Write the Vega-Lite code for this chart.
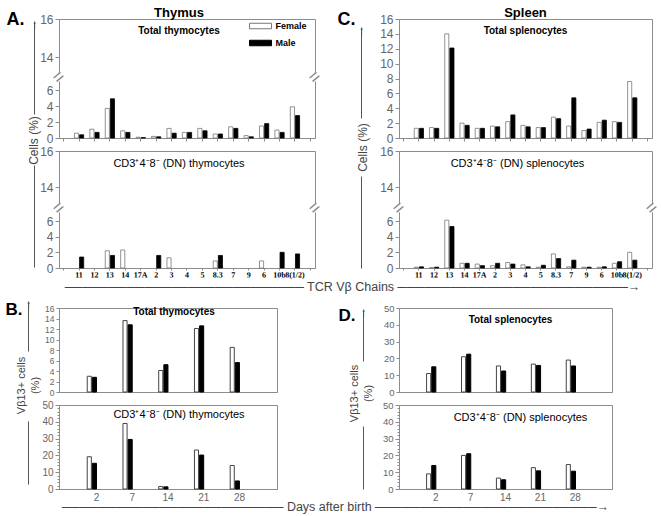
{
  "$schema": "https://vega.github.io/schema/vega-lite/v6.json",
  "padding": {"left": 4, "top": 6, "right": 6, "bottom": 4},
  "background": "white",
  "datasets": {
    "thymusTotal": [
      {"chain": "11", "sex": "Female", "pct": 0.6}, {"chain": "11", "sex": "Male", "pct": 0.4},
      {"chain": "12", "sex": "Female", "pct": 1.1}, {"chain": "12", "sex": "Male", "pct": 0.7},
      {"chain": "13", "sex": "Female", "pct": 3.7}, {"chain": "13", "sex": "Male", "pct": 4.9},
      {"chain": "14", "sex": "Female", "pct": 0.9}, {"chain": "14", "sex": "Male", "pct": 0.7},
      {"chain": "17A", "sex": "Female", "pct": 0.1}, {"chain": "17A", "sex": "Male", "pct": 0.05},
      {"chain": "2", "sex": "Female", "pct": 0.2}, {"chain": "2", "sex": "Male", "pct": 0.15},
      {"chain": "3", "sex": "Female", "pct": 1.2}, {"chain": "3", "sex": "Male", "pct": 0.6},
      {"chain": "4", "sex": "Female", "pct": 0.7}, {"chain": "4", "sex": "Male", "pct": 0.7},
      {"chain": "5", "sex": "Female", "pct": 1.2}, {"chain": "5", "sex": "Male", "pct": 0.9},
      {"chain": "8.3", "sex": "Female", "pct": 0.5}, {"chain": "8.3", "sex": "Male", "pct": 0.5},
      {"chain": "7", "sex": "Female", "pct": 1.4}, {"chain": "7", "sex": "Male", "pct": 1.2},
      {"chain": "9", "sex": "Female", "pct": 0.3}, {"chain": "9", "sex": "Male", "pct": 0.15},
      {"chain": "6", "sex": "Female", "pct": 1.5}, {"chain": "6", "sex": "Male", "pct": 1.8},
      {"chain": "10b", "sex": "Female", "pct": 1.0}, {"chain": "10b", "sex": "Male", "pct": 0.7},
      {"chain": "8(1/2)", "sex": "Female", "pct": 3.9}, {"chain": "8(1/2)", "sex": "Male", "pct": 2.8}
    ],
    "thymusDN": [
      {"chain": "11", "sex": "Male", "pct": 1.4},
      {"chain": "13", "sex": "Female", "pct": 2.2}, {"chain": "13", "sex": "Male", "pct": 1.6},
      {"chain": "14", "sex": "Female", "pct": 2.3},
      {"chain": "2", "sex": "Male", "pct": 1.6},
      {"chain": "3", "sex": "Female", "pct": 1.3},
      {"chain": "8.3", "sex": "Female", "pct": 0.9}, {"chain": "8.3", "sex": "Male", "pct": 1.6},
      {"chain": "6", "sex": "Female", "pct": 0.9},
      {"chain": "10b", "sex": "Male", "pct": 2.0},
      {"chain": "8(1/2)", "sex": "Male", "pct": 1.8}
    ],
    "spleenTotal": [
      {"chain": "11", "sex": "Female", "pct": 1.3}, {"chain": "11", "sex": "Male", "pct": 1.3},
      {"chain": "12", "sex": "Female", "pct": 1.4}, {"chain": "12", "sex": "Male", "pct": 1.3},
      {"chain": "13", "sex": "Female", "pct": 14.0}, {"chain": "13", "sex": "Male", "pct": 12.1},
      {"chain": "14", "sex": "Female", "pct": 2.0}, {"chain": "14", "sex": "Male", "pct": 1.7},
      {"chain": "17A", "sex": "Female", "pct": 1.3}, {"chain": "17A", "sex": "Male", "pct": 1.3},
      {"chain": "2", "sex": "Female", "pct": 1.6}, {"chain": "2", "sex": "Male", "pct": 1.5},
      {"chain": "3", "sex": "Female", "pct": 2.2}, {"chain": "3", "sex": "Male", "pct": 3.1},
      {"chain": "4", "sex": "Female", "pct": 1.7}, {"chain": "4", "sex": "Male", "pct": 1.5},
      {"chain": "5", "sex": "Female", "pct": 1.4}, {"chain": "5", "sex": "Male", "pct": 1.4},
      {"chain": "8.3", "sex": "Female", "pct": 2.8}, {"chain": "8.3", "sex": "Male", "pct": 2.6},
      {"chain": "7", "sex": "Female", "pct": 1.6}, {"chain": "7", "sex": "Male", "pct": 5.4},
      {"chain": "9", "sex": "Female", "pct": 1.0}, {"chain": "9", "sex": "Male", "pct": 1.2},
      {"chain": "6", "sex": "Female", "pct": 2.1}, {"chain": "6", "sex": "Male", "pct": 2.4},
      {"chain": "10b", "sex": "Female", "pct": 2.2}, {"chain": "10b", "sex": "Male", "pct": 2.1},
      {"chain": "8(1/2)", "sex": "Female", "pct": 7.6}, {"chain": "8(1/2)", "sex": "Male", "pct": 5.4}
    ],
    "spleenDN": [
      {"chain": "11", "sex": "Female", "pct": 0.1}, {"chain": "11", "sex": "Male", "pct": 0.15},
      {"chain": "12", "sex": "Female", "pct": 0.05}, {"chain": "12", "sex": "Male", "pct": 0.1},
      {"chain": "13", "sex": "Female", "pct": 6.2}, {"chain": "13", "sex": "Male", "pct": 5.3},
      {"chain": "14", "sex": "Female", "pct": 0.6}, {"chain": "14", "sex": "Male", "pct": 0.6},
      {"chain": "17A", "sex": "Female", "pct": 0.5}, {"chain": "17A", "sex": "Male", "pct": 0.3},
      {"chain": "2", "sex": "Female", "pct": 0.3}, {"chain": "2", "sex": "Male", "pct": 0.6},
      {"chain": "3", "sex": "Female", "pct": 0.7}, {"chain": "3", "sex": "Male", "pct": 0.5},
      {"chain": "4", "sex": "Female", "pct": 0.4}, {"chain": "4", "sex": "Male", "pct": 0.15},
      {"chain": "5", "sex": "Female", "pct": 0.1}, {"chain": "5", "sex": "Male", "pct": 0.35},
      {"chain": "8.3", "sex": "Female", "pct": 1.8}, {"chain": "8.3", "sex": "Male", "pct": 1.2},
      {"chain": "7", "sex": "Female", "pct": 0.15}, {"chain": "7", "sex": "Male", "pct": 1.0},
      {"chain": "9", "sex": "Female", "pct": 0.1}, {"chain": "9", "sex": "Male", "pct": 0.1},
      {"chain": "6", "sex": "Female", "pct": 0.1}, {"chain": "6", "sex": "Male", "pct": 0.15},
      {"chain": "10b", "sex": "Female", "pct": 0.6}, {"chain": "10b", "sex": "Male", "pct": 0.8},
      {"chain": "8(1/2)", "sex": "Female", "pct": 2.0}, {"chain": "8(1/2)", "sex": "Male", "pct": 1.0}
    ],
    "thymusDays": [
      {"day": "2", "sex": "Female", "pct": 3.0}, {"day": "2", "sex": "Male", "pct": 2.8},
      {"day": "7", "sex": "Female", "pct": 13.6}, {"day": "7", "sex": "Male", "pct": 12.8},
      {"day": "14", "sex": "Female", "pct": 4.1}, {"day": "14", "sex": "Male", "pct": 5.2},
      {"day": "21", "sex": "Female", "pct": 12.1}, {"day": "21", "sex": "Male", "pct": 12.6},
      {"day": "28", "sex": "Female", "pct": 8.5}, {"day": "28", "sex": "Male", "pct": 5.6}
    ],
    "thymusDaysDN": [
      {"day": "2", "sex": "Female", "pct": 19.2}, {"day": "2", "sex": "Male", "pct": 15.3},
      {"day": "7", "sex": "Female", "pct": 39.0}, {"day": "7", "sex": "Male", "pct": 29.5},
      {"day": "14", "sex": "Female", "pct": 1.5}, {"day": "14", "sex": "Male", "pct": 1.3},
      {"day": "21", "sex": "Female", "pct": 23.2}, {"day": "21", "sex": "Male", "pct": 20.2},
      {"day": "28", "sex": "Female", "pct": 14.0}, {"day": "28", "sex": "Male", "pct": 4.8}
    ],
    "spleenDays": [
      {"day": "2", "sex": "Female", "pct": 11.0}, {"day": "2", "sex": "Male", "pct": 15.0},
      {"day": "7", "sex": "Female", "pct": 21.0}, {"day": "7", "sex": "Male", "pct": 22.5},
      {"day": "14", "sex": "Female", "pct": 15.5}, {"day": "14", "sex": "Male", "pct": 12.5},
      {"day": "21", "sex": "Female", "pct": 16.6}, {"day": "21", "sex": "Male", "pct": 15.8},
      {"day": "28", "sex": "Female", "pct": 19.0}, {"day": "28", "sex": "Male", "pct": 15.5}
    ],
    "spleenDaysDN": [
      {"day": "2", "sex": "Female", "pct": 9.0}, {"day": "2", "sex": "Male", "pct": 14.0},
      {"day": "7", "sex": "Female", "pct": 20.0}, {"day": "7", "sex": "Male", "pct": 21.0},
      {"day": "14", "sex": "Female", "pct": 6.5}, {"day": "14", "sex": "Male", "pct": 5.5},
      {"day": "21", "sex": "Female", "pct": 12.7}, {"day": "21", "sex": "Male", "pct": 10.8},
      {"day": "28", "sex": "Female", "pct": 14.6}, {"day": "28", "sex": "Male", "pct": 10.6}
    ]
  },
  "columns": 2,
  "spacing": {"row": 13, "column": 84},
  "bounds": "flush",
  "align": "each",
  "resolve": {"scale": {"fill": "independent", "stroke": "independent"}, "legend": {"fill": "independent", "stroke": "independent"}},
  "concat": [
    {
      "width": 256, "height": 119,
      "title": {"text": "Thymus", "subtitle": "Total thymocytes", "fontSize": 13, "fontWeight": "bold", "subtitleFontSize": 10, "subtitleFontWeight": "bold", "subtitleColor": "black", "subtitleFont": "Liberation Sans", "subtitlePadding": 6, "anchor": "middle", "frame": "group", "offset": -26, "dx": -8},
      "resolve": {"scale": {"y": "independent"}, "axis": {"y": "independent"}},
      "layer": [
        {
          "layer": [
            {
              "data": {"name": "thymusTotal"},
              "mark": {"type": "bar", "strokeWidth": 0.8},
              "encoding": {
                "x": {"field": "chain", "type": "nominal", "scale": {"type": "band", "domain": ["a", "11", "12", "13", "14", "17A", "2", "3", "4", "5", "8.3", "7", "9", "6", "10b", "8(1/2)", "z"], "paddingInner": 0.4, "paddingOuter": 0}, "axis": {"labels": false, "ticks": true, "tickSize": 3, "title": "A.", "titleAngle": 0, "titleAlign": "left", "titleBaseline": "alphabetic", "titleX": -53, "titleY": -114, "titleFontSize": 18, "titleFontWeight": "bold", "titleColor": "black"}},
                "xOffset": {"field": "sex", "type": "nominal", "scale": {"domain": ["Female", "Male"], "paddingInner": 0.2}},
                "y": {"field": "pct", "type": "quantitative", "scale": {"domain": [0, 6, 14, 16], "range": [119, 71, 38, 0], "nice": false, "zero": false}, "axis": {"values": [0, 2, 4, 6, 14, 16], "format": "d", "tickCount": 30, "labelOverlap": false, "labelFontSize": 12, "tickSize": 4, "title": "Cells (%)", "titleX": -26, "titleY": 121, "titleAngle": 270, "titleAlign": "center", "titleBaseline": "middle", "titleFontSize": 12}},
                "fill": {"field": "sex", "type": "nominal", "scale": {"domain": ["Female", "Male"], "range": ["white", "black"]}, "legend": {"title": null, "orient": "none", "legendX": 195.5, "legendY": 1, "padding": 0, "symbolType": "M-2,-0.5H2V0.5H-2Z", "symbolSize": 121, "symbolStrokeWidth": 1, "labelOffset": 9, "labelFontSize": 9, "labelFontWeight": "bold", "labelColor": "black", "rowPadding": 6}},
                "stroke": {"field": "sex", "type": "nominal", "scale": {"domain": ["Female", "Male"], "range": ["#777777", "black"]}, "legend": {"title": null, "orient": "none", "legendX": 195.5, "legendY": 1, "padding": 0, "symbolType": "M-2,-0.5H2V0.5H-2Z", "symbolSize": 121, "symbolStrokeWidth": 1, "labelOffset": 9, "labelFontSize": 9, "labelFontWeight": "bold", "labelColor": "black", "rowPadding": 6}}
              }
            },
            {"data": {"values": [{}]}, "mark": {"type": "rect", "fill": "white", "stroke": "white", "strokeWidth": 3}, "encoding": {"y": {"datum": 8.4}, "y2": {"datum": 9.6}}},
            {"data": {"values": [{}]}, "mark": {"type": "text", "text": "=", "fontSize": 18, "angle": -40, "color": "#888888", "align": "center", "baseline": "middle"}, "encoding": {"x": {"datum": "a", "bandPosition": 0}, "y": {"datum": 9}}},
            {"data": {"values": [{}]}, "mark": {"type": "text", "text": "=", "fontSize": 18, "angle": -40, "color": "#888888", "align": "center", "baseline": "middle"}, "encoding": {"x": {"datum": "z", "bandPosition": 1}, "y": {"datum": 9}}}
          ]
        },
        {"data": {"values": []}, "mark": {"type": "rule"}, "encoding": {"y": {"field": "v", "type": "quantitative", "scale": {"domain": [0, 1], "range": [95, 2]}, "axis": {"orient": "left", "offset": 25, "domain": true, "domainColor": "#555555", "ticks": false, "tickSize": 0, "values": [1], "labels": true, "labelExpr": "'↑'", "labelAlign": "center", "labelBaseline": "top", "labelPadding": 0, "labelOffset": -2, "labelFontSize": 12, "labelColor": "#555555", "labelOverlap": false, "labelFlush": false, "grid": false, "title": null}}}}
      ]
    },
    {
      "width": 253, "height": 119,
      "title": {"text": "Spleen", "subtitle": "Total splenocytes", "fontSize": 13, "fontWeight": "bold", "subtitleFontSize": 10, "subtitleFontWeight": "bold", "subtitleColor": "black", "subtitleFont": "Liberation Sans", "subtitlePadding": 6, "anchor": "middle", "frame": "group", "offset": -26, "dx": 0},
      "resolve": {"scale": {"y": "independent"}, "axis": {"y": "independent"}},
      "layer": [
        {
          "data": {"name": "spleenTotal"},
          "mark": {"type": "bar", "strokeWidth": 0.8},
          "encoding": {
            "x": {"field": "chain", "type": "nominal", "scale": {"type": "band", "domain": ["a", "11", "12", "13", "14", "17A", "2", "3", "4", "5", "8.3", "7", "9", "6", "10b", "8(1/2)", "z"], "paddingInner": 0.4, "paddingOuter": 0}, "axis": {"labels": false, "ticks": true, "tickSize": 3, "title": "C.", "titleAngle": 0, "titleAlign": "left", "titleBaseline": "alphabetic", "titleX": -62, "titleY": -114, "titleFontSize": 18, "titleFontWeight": "bold", "titleColor": "black"}},
            "xOffset": {"field": "sex", "type": "nominal", "scale": {"domain": ["Female", "Male"], "paddingInner": 0.2}},
            "y": {"field": "pct", "type": "quantitative", "scale": {"domain": [0, 16], "nice": false, "zero": true}, "axis": {"values": [0, 2, 4, 6, 8, 10, 12, 14, 16], "format": "d", "tickCount": 30, "labelOverlap": false, "labelFontSize": 12, "tickSize": 4, "title": "Cells (%)", "titleX": -37, "titleY": 128, "titleAngle": 270, "titleAlign": "center", "titleBaseline": "middle", "titleFontSize": 12}},
            "fill": {"field": "sex", "type": "nominal", "scale": {"domain": ["Female", "Male"], "range": ["white", "black"]}, "legend": null},
            "stroke": {"field": "sex", "type": "nominal", "scale": {"domain": ["Female", "Male"], "range": ["#777777", "black"]}, "legend": null}
          }
        },
        {"data": {"values": []}, "mark": {"type": "rule"}, "encoding": {"y": {"field": "v", "type": "quantitative", "scale": {"domain": [0, 1], "range": [99, 8]}, "axis": {"orient": "left", "offset": 38, "domain": true, "domainColor": "#555555", "ticks": false, "tickSize": 0, "values": [1], "labels": true, "labelExpr": "'↑'", "labelAlign": "center", "labelBaseline": "top", "labelPadding": 0, "labelOffset": -2, "labelFontSize": 12, "labelColor": "#555555", "labelOverlap": false, "labelFlush": false, "grid": false, "title": null}}}}
      ]
    },
    {
      "width": 256, "height": 117,
      "title": {"text": "CD3⁺4⁻8⁻ (DN) thymocytes", "fontSize": 11, "fontWeight": "normal", "anchor": "middle", "frame": "group", "offset": -24.3, "dx": -8},
      "resolve": {"scale": {"y": "independent"}, "axis": {"y": "independent"}},
      "layer": [
        {
          "layer": [
            {
              "data": {"name": "thymusDN"},
              "mark": {"type": "bar", "strokeWidth": 0.8},
              "encoding": {
                "x": {"field": "chain", "type": "nominal", "scale": {"type": "band", "domain": ["a", "11", "12", "13", "14", "17A", "2", "3", "4", "5", "8.3", "7", "9", "6", "10b", "8(1/2)", "z"], "paddingInner": 0.4, "paddingOuter": 0}, "axis": {"labelExpr": "datum.value == 'a' || datum.value == 'z' ? '' : datum.value", "labelOverlap": false, "labelAngle": 0.2, "labelAlign": "center", "labelBaseline": "top", "labelFont": "Liberation Serif", "labelFontWeight": "bold", "labelFontSize": 8, "labelColor": "black", "labelPadding": 1, "ticks": true, "tickSize": 2, "title": "───────────────────────────  TCR Vβ Chains  ──────────────────────────→", "titleX": 293, "titleY": 18, "titleAlign": "center", "titleBaseline": "middle", "titleFontSize": 12.5, "titleLimit": 1000}},
                "xOffset": {"field": "sex", "type": "nominal", "scale": {"domain": ["Female", "Male"], "paddingInner": 0.2}},
                "y": {"field": "pct", "type": "quantitative", "scale": {"domain": [0, 6, 14, 16], "range": [117, 70, 36, 0], "nice": false, "zero": false}, "axis": {"values": [0, 2, 4, 6, 14, 16], "format": "d", "tickCount": 30, "labelOverlap": false, "labelFontSize": 12, "tickSize": 4, "title": null}},
                "fill": {"field": "sex", "type": "nominal", "scale": {"domain": ["Female", "Male"], "range": ["white", "black"]}, "legend": null},
                "stroke": {"field": "sex", "type": "nominal", "scale": {"domain": ["Female", "Male"], "range": ["#777777", "black"]}, "legend": null}
              }
            },
            {"data": {"values": [{}]}, "mark": {"type": "rect", "fill": "white", "stroke": "white", "strokeWidth": 3}, "encoding": {"y": {"datum": 8.4}, "y2": {"datum": 9.6}}},
            {"data": {"values": [{}]}, "mark": {"type": "text", "text": "=", "fontSize": 18, "angle": -40, "color": "#888888", "align": "center", "baseline": "middle"}, "encoding": {"x": {"datum": "a", "bandPosition": 0}, "y": {"datum": 9}}},
            {"data": {"values": [{}]}, "mark": {"type": "text", "text": "=", "fontSize": 18, "angle": -40, "color": "#888888", "align": "center", "baseline": "middle"}, "encoding": {"x": {"datum": "z", "bandPosition": 1}, "y": {"datum": 9}}}
          ]
        },
        {"data": {"values": []}, "mark": {"type": "rule"}, "encoding": {"y": {"field": "v", "type": "quantitative", "scale": {"domain": [0, 1], "range": [116, 14]}, "axis": {"orient": "left", "offset": 25, "domain": true, "domainColor": "#555555", "ticks": false, "labels": false, "grid": false, "title": null}}}}
      ]
    },
    {
      "width": 253, "height": 117,
      "title": {"text": "CD3⁺4⁻8⁻ (DN) splenocytes", "fontSize": 11, "fontWeight": "normal", "anchor": "middle", "frame": "group", "offset": -24.3, "dx": -8},
      "resolve": {"scale": {"y": "independent"}, "axis": {"y": "independent"}},
      "layer": [
        {
          "layer": [
            {
              "data": {"name": "spleenDN"},
              "mark": {"type": "bar", "strokeWidth": 0.8},
              "encoding": {
                "x": {"field": "chain", "type": "nominal", "scale": {"type": "band", "domain": ["a", "11", "12", "13", "14", "17A", "2", "3", "4", "5", "8.3", "7", "9", "6", "10b", "8(1/2)", "z"], "paddingInner": 0.4, "paddingOuter": 0}, "axis": {"labelExpr": "datum.value == 'a' || datum.value == 'z' ? '' : datum.value", "labelOverlap": false, "labelAngle": 0.2, "labelAlign": "center", "labelBaseline": "top", "labelFont": "Liberation Serif", "labelFontWeight": "bold", "labelFontSize": 8, "labelColor": "black", "labelPadding": 1, "ticks": true, "tickSize": 2, "title": null}},
                "xOffset": {"field": "sex", "type": "nominal", "scale": {"domain": ["Female", "Male"], "paddingInner": 0.2}},
                "y": {"field": "pct", "type": "quantitative", "scale": {"domain": [0, 6, 14, 16], "range": [117, 70, 36, 0], "nice": false, "zero": false}, "axis": {"values": [0, 2, 4, 6, 14, 16], "format": "d", "tickCount": 30, "labelOverlap": false, "labelFontSize": 12, "tickSize": 4, "title": null}},
                "fill": {"field": "sex", "type": "nominal", "scale": {"domain": ["Female", "Male"], "range": ["white", "black"]}, "legend": null},
                "stroke": {"field": "sex", "type": "nominal", "scale": {"domain": ["Female", "Male"], "range": ["#777777", "black"]}, "legend": null}
              }
            },
            {"data": {"values": [{}]}, "mark": {"type": "rect", "fill": "white", "stroke": "white", "strokeWidth": 3}, "encoding": {"y": {"datum": 8.4}, "y2": {"datum": 9.6}}},
            {"data": {"values": [{}]}, "mark": {"type": "text", "text": "=", "fontSize": 18, "angle": -40, "color": "#888888", "align": "center", "baseline": "middle"}, "encoding": {"x": {"datum": "a", "bandPosition": 0}, "y": {"datum": 9}}},
            {"data": {"values": [{}]}, "mark": {"type": "text", "text": "=", "fontSize": 18, "angle": -40, "color": "#888888", "align": "center", "baseline": "middle"}, "encoding": {"x": {"datum": "z", "bandPosition": 1}, "y": {"datum": 9}}}
          ]
        },
        {"data": {"values": []}, "mark": {"type": "rule"}, "encoding": {"y": {"field": "v", "type": "quantitative", "scale": {"domain": [0, 1], "range": [117, 25]}, "axis": {"orient": "left", "offset": 38, "domain": true, "domainColor": "#555555", "ticks": false, "labels": false, "grid": false, "title": null}}}}
      ]
    },
    {"width": 256, "height": 14, "view": {"stroke": null, "fill": null}, "data": {"values": []}, "mark": {"type": "point"}},
    {"width": 253, "height": 14, "view": {"stroke": null, "fill": null}, "data": {"values": []}, "mark": {"type": "point"}},
    {
      "width": 218, "height": 84,
      "title": {"text": "Total thymocytes", "fontSize": 10, "fontWeight": "bold", "anchor": "middle", "frame": "group", "offset": -19, "dx": 6},
      "resolve": {"scale": {"y": "independent"}, "axis": {"y": "independent"}},
      "layer": [
        {
          "data": {"name": "thymusDays"},
          "mark": {"type": "bar", "strokeWidth": 1},
          "encoding": {
            "x": {"field": "day", "type": "nominal", "scale": {"type": "band", "domain": ["2", "7", "14", "21", "28"], "paddingInner": 0.48, "paddingOuter": 0.79}, "axis": {"labels": false, "ticks": false, "title": "B.", "titleAngle": 0, "titleAlign": "left", "titleBaseline": "alphabetic", "titleX": -54, "titleY": -78, "titleFontSize": 17, "titleFontWeight": "bold", "titleColor": "black"}},
            "xOffset": {"field": "sex", "type": "nominal", "scale": {"domain": ["Female", "Male"], "paddingInner": 0.36}},
            "y": {"field": "pct", "type": "quantitative", "scale": {"domain": [0, 16], "nice": false}, "axis": {"values": [0, 2, 4, 6, 8, 10, 12, 14, 16], "format": "d", "tickCount": 30, "labelOverlap": false, "labelFontSize": 8.5, "tickSize": 3, "labelPadding": 2, "title": ["Vβ13+ cells", "(%)"], "titleX": -38, "titleY": 77, "titleAngle": 270, "titleAlign": "center", "titleBaseline": "middle", "titleFontSize": 11, "titleLineHeight": 14}},
            "fill": {"field": "sex", "type": "nominal", "scale": {"domain": ["Female", "Male"], "range": ["white", "black"]}, "legend": null},
            "stroke": {"field": "sex", "type": "nominal", "scale": {"domain": ["Female", "Male"], "range": ["#444444", "black"]}, "legend": null}
          }
        },
        {"data": {"values": []}, "mark": {"type": "rule"}, "encoding": {"y": {"field": "v", "type": "quantitative", "scale": {"domain": [0, 1], "range": [43, -7]}, "axis": {"orient": "left", "offset": 31, "domain": true, "domainColor": "#555555", "ticks": false, "tickSize": 0, "values": [1], "labels": true, "labelExpr": "'↑'", "labelAlign": "center", "labelBaseline": "top", "labelPadding": 0, "labelOffset": -2, "labelFontSize": 12, "labelColor": "#555555", "labelOverlap": false, "labelFlush": false, "grid": false, "title": null}}}}
      ]
    },
    {
      "width": 213, "height": 84,
      "title": {"text": "Total splenocytes", "fontSize": 10, "fontWeight": "bold", "anchor": "middle", "frame": "group", "offset": -22, "dx": 5},
      "resolve": {"scale": {"y": "independent"}, "axis": {"y": "independent"}},
      "layer": [
        {
          "data": {"name": "spleenDays"},
          "mark": {"type": "bar", "strokeWidth": 1},
          "encoding": {
            "x": {"field": "day", "type": "nominal", "scale": {"type": "band", "domain": ["2", "7", "14", "21", "28"], "paddingInner": 0.48, "paddingOuter": 0.79}, "axis": {"labels": false, "ticks": false, "title": "D.", "titleAngle": 0, "titleAlign": "left", "titleBaseline": "alphabetic", "titleX": -61, "titleY": -72, "titleFontSize": 17, "titleFontWeight": "bold", "titleColor": "black"}},
            "xOffset": {"field": "sex", "type": "nominal", "scale": {"domain": ["Female", "Male"], "paddingInner": 0.36}},
            "y": {"field": "pct", "type": "quantitative", "scale": {"domain": [0, 50], "nice": false}, "axis": {"values": [0, 10, 20, 30, 40, 50], "format": "d", "tickCount": 30, "labelOverlap": false, "labelFontSize": 9.5, "tickSize": 3, "labelPadding": 2, "title": ["Vβ13+ cells", "(%)"], "titleX": -45, "titleY": 85, "titleAngle": 270, "titleAlign": "center", "titleBaseline": "middle", "titleFontSize": 11, "titleLineHeight": 14}},
            "fill": {"field": "sex", "type": "nominal", "scale": {"domain": ["Female", "Male"], "range": ["white", "black"]}, "legend": null},
            "stroke": {"field": "sex", "type": "nominal", "scale": {"domain": ["Female", "Male"], "range": ["#444444", "black"]}, "legend": null}
          }
        },
        {"data": {"values": []}, "mark": {"type": "rule"}, "encoding": {"y": {"field": "v", "type": "quantitative", "scale": {"domain": [0, 1], "range": [53, 1]}, "axis": {"orient": "left", "offset": 36, "domain": true, "domainColor": "#555555", "ticks": false, "tickSize": 0, "values": [1], "labels": true, "labelExpr": "'↑'", "labelAlign": "center", "labelBaseline": "top", "labelPadding": 0, "labelOffset": -2, "labelFontSize": 12, "labelColor": "#555555", "labelOverlap": false, "labelFlush": false, "grid": false, "title": null}}}}
      ]
    },
    {
      "width": 218, "height": 84,
      "title": {"text": "CD3⁺4⁻8⁻ (DN) thymocytes", "fontSize": 11, "fontWeight": "normal", "anchor": "middle", "frame": "group", "offset": -20.3, "dx": 11},
      "resolve": {"scale": {"y": "independent"}, "axis": {"y": "independent"}},
      "layer": [
        {
          "data": {"name": "thymusDaysDN"},
          "mark": {"type": "bar", "strokeWidth": 1},
          "encoding": {
            "x": {"field": "day", "type": "nominal", "scale": {"type": "band", "domain": ["2", "7", "14", "21", "28"], "paddingInner": 0.48, "paddingOuter": 0.79}, "axis": {"labelAngle": 0, "labelFontSize": 10, "labelPadding": 3, "ticks": false, "title": "───────────────────────── Days after birth ─────────────────────────→", "titleX": 276, "titleY": 17, "titleAlign": "center", "titleBaseline": "middle", "titleFontSize": 12.5, "titleLimit": 1000}},
            "xOffset": {"field": "sex", "type": "nominal", "scale": {"domain": ["Female", "Male"], "paddingInner": 0.36}},
            "y": {"field": "pct", "type": "quantitative", "scale": {"domain": [0, 50], "nice": false}, "axis": {"values": [0, 2, 4, 6, 8, 10, 12, 14, 16, 18, 20, 22, 24, 26, 28, 30, 32, 34, 36, 38, 40, 42, 44, 46, 48, 50], "tickCount": 60, "labelOverlap": false, "labelExpr": "datum.value % 10 == 0 ? datum.label : ''", "tickSize": {"condition": {"test": "datum.value % 10 == 0", "value": 4}, "value": 2}, "labelFontSize": 10, "labelPadding": 2, "title": null}},
            "fill": {"field": "sex", "type": "nominal", "scale": {"domain": ["Female", "Male"], "range": ["white", "black"]}, "legend": null},
            "stroke": {"field": "sex", "type": "nominal", "scale": {"domain": ["Female", "Male"], "range": ["#444444", "black"]}, "legend": null}
          }
        },
        {"data": {"values": []}, "mark": {"type": "rule"}, "encoding": {"y": {"field": "v", "type": "quantitative", "scale": {"domain": [0, 1], "range": [79, 16]}, "axis": {"orient": "left", "offset": 31, "domain": true, "domainColor": "#555555", "ticks": false, "labels": false, "grid": false, "title": null}}}}
      ]
    },
    {
      "width": 213, "height": 84,
      "title": {"text": "CD3⁺4⁻8⁻ (DN) splenocytes", "fontSize": 11, "fontWeight": "normal", "anchor": "middle", "frame": "group", "offset": -23, "dx": 15},
      "resolve": {"scale": {"y": "independent"}, "axis": {"y": "independent"}},
      "layer": [
        {
          "data": {"name": "spleenDaysDN"},
          "mark": {"type": "bar", "strokeWidth": 1},
          "encoding": {
            "x": {"field": "day", "type": "nominal", "scale": {"type": "band", "domain": ["2", "7", "14", "21", "28"], "paddingInner": 0.48, "paddingOuter": 0.79}, "axis": {"labelAngle": 0, "labelFontSize": 10, "labelPadding": 3, "ticks": false, "title": null}},
            "xOffset": {"field": "sex", "type": "nominal", "scale": {"domain": ["Female", "Male"], "paddingInner": 0.36}},
            "y": {"field": "pct", "type": "quantitative", "scale": {"domain": [0, 50], "nice": false}, "axis": {"values": [0, 2, 4, 6, 8, 10, 12, 14, 16, 18, 20, 22, 24, 26, 28, 30, 32, 34, 36, 38, 40, 42, 44, 46, 48, 50], "tickCount": 60, "labelOverlap": false, "labelExpr": "datum.value % 10 == 0 ? datum.label : ''", "tickSize": {"condition": {"test": "datum.value % 10 == 0", "value": 4}, "value": 2}, "labelFontSize": 9.5, "labelPadding": 2, "title": null}},
            "fill": {"field": "sex", "type": "nominal", "scale": {"domain": ["Female", "Male"], "range": ["white", "black"]}, "legend": null},
            "stroke": {"field": "sex", "type": "nominal", "scale": {"domain": ["Female", "Male"], "range": ["#444444", "black"]}, "legend": null}
          }
        },
        {"data": {"values": []}, "mark": {"type": "rule"}, "encoding": {"y": {"field": "v", "type": "quantitative", "scale": {"domain": [0, 1], "range": [84, 21]}, "axis": {"orient": "left", "offset": 36, "domain": true, "domainColor": "#555555", "ticks": false, "labels": false, "grid": false, "title": null}}}}
      ]
    }
  ],
  "config": {
    "font": "Liberation Sans",
    "view": {"stroke": "#8c8c8c", "strokeWidth": 1},
    "axis": {"domainColor": "#8c8c8c", "tickColor": "#8c8c8c", "labelColor": "#666666", "grid": false, "titleFontWeight": "normal", "titleColor": "#444444", "titleFont": "Liberation Sans", "labelFont": "Liberation Sans"},
    "title": {"color": "black", "font": "Liberation Sans"}
  }
}
